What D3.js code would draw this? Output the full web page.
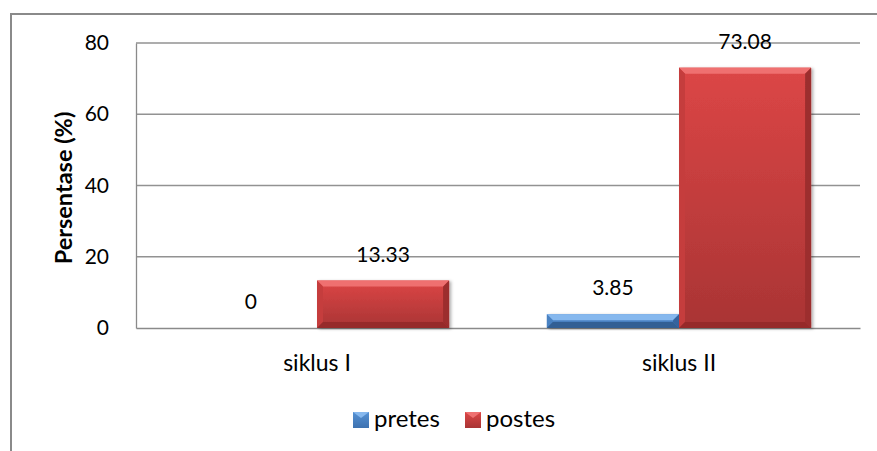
<!DOCTYPE html>
<html>
<head>
<meta charset="utf-8">
<script src="https://cdn.jsdelivr.net/npm/d3@7"></script>
<style>
  body { margin: 0; background: #fff; }
  svg { display: block; font-family: Lato, "Open Sans", sans-serif; }
</style>
</head>
<body>
<div class="chart"></div>
<script>
// data
var categories = ['siklus I', 'siklus II']
var seriesNames = ['pretes', 'postes']
var pretes = [0, 3.85]
var postes = [13.33, 73.08]
var yTicks = [0, 20, 40, 60, 80]

var W = 877, H = 451
var margin = {top: 43, right: 17, bottom: 123, left: 136},
    width = W - margin.left - margin.right,
    height = H - margin.top - margin.bottom

var svg = d3.select('.chart').append('svg')
    .attr('width', W)
    .attr('height', H)

// outer chart frame
svg.append('rect')
  .attr('x', 11).attr('y', 14)
  .attr('width', W + 20).attr('height', H + 20)
  .attr('fill', 'none')
  .attr('stroke', '#8a8a8a')
  .attr('stroke-width', 2)

var g = svg.append('g')
  .attr('transform', 'translate(' + margin.left + ',' + margin.top + ')')

var x0 = d3.scaleBand().domain(categories).range([0, width]).paddingInner(0).paddingOuter(0)
var x1 = d3.scaleBand().domain(seriesNames).range([0, x0.bandwidth()]).paddingInner(0).paddingOuter(0.37)
var y = d3.scaleLinear().domain([0, 80]).range([height, 0])

// gridlines
g.selectAll('.grid')
  .data(yTicks.filter(d => d > 0))
  .enter().append('line')
  .attr('x1', 0).attr('x2', width)
  .attr('y1', d => y(d)).attr('y2', d => y(d))
  .attr('stroke', '#929292')
  .attr('stroke-width', 1.3)

// axes
var yAxis = d3.axisLeft(y).tickValues(yTicks).tickSize(0).tickPadding(27)
g.append('g').attr('class', 'y-axis').call(yAxis)
var xAxis = d3.axisBottom(x0).tickSize(0).tickPadding(0)
g.append('g').attr('class', 'x-axis').attr('transform', 'translate(0,' + height + ')').call(xAxis)

g.selectAll('.domain').attr('stroke', '#8a8a8a').attr('stroke-width', 1.3)
g.select('.y-axis').selectAll('text')
  .attr('font-size', 21).attr('fill', '#000')
  .attr('font-family', 'Lato, sans-serif')
g.select('.x-axis').selectAll('text')
  .attr('font-size', 23).attr('fill', '#000')
  .attr('font-family', 'Lato, sans-serif')
  .attr('dy', 0).attr('y', 43)

// axis title
svg.append('text')
  .attr('transform', 'translate(72,188) rotate(-90)')
  .attr('text-anchor', 'middle')
  .attr('font-weight', 'bold')
  .attr('font-size', 23.5)
  .text('Persentase (%)')

// colours
var colors = {
  pretes: {top: '#86b8ee', body1: '#5591d4', body2: '#3e72b0', left: '#4a82c2', right: '#35649e', bottom: '#325e94'},
  postes: {top: '#ef7070', body1: '#dc4646', body2: '#a93434', left: '#c53c3c', right: '#9c2e2e', bottom: '#962c2c'}
}

var defs = svg.append('defs')
seriesNames.forEach(s => {
  var grad = defs.append('linearGradient').attr('id', 'grad-' + s)
    .attr('x1', 0).attr('y1', 0).attr('x2', 0).attr('y2', 1)
  grad.append('stop').attr('offset', '0%').attr('stop-color', colors[s].body1)
  grad.append('stop').attr('offset', '100%').attr('stop-color', colors[s].body2)
})
var shadow = defs.append('filter').attr('id', 'shadow')
  .attr('x', '-10%').attr('y', '-10%').attr('width', '130%').attr('height', '130%')
shadow.append('feDropShadow').attr('dx', 2).attr('dy', 1).attr('stdDeviation', 1.5)
  .attr('flood-color', '#000').attr('flood-opacity', 0.3)

// bevelled bar
function bevelBar(sel, s, bx, by, bw, bh) {
  var b = Math.min(6, bh / 2)
  var gb = sel.append('g').attr('filter', 'url(#shadow)')
  gb.append('rect').attr('x', bx).attr('y', by).attr('width', bw).attr('height', bh)
    .attr('fill', 'url(#grad-' + s + ')')
  var poly = function(pts, c) {
    gb.append('polygon').attr('points', pts.map(p => p.join(',')).join(' ')).attr('fill', c)
  }
  poly([[bx, by], [bx + bw, by], [bx + bw - b, by + b], [bx + b, by + b]], colors[s].top)
  poly([[bx, by], [bx + b, by + b], [bx + b, by + bh - b], [bx, by + bh]], colors[s].left)
  poly([[bx + bw, by], [bx + bw, by + bh], [bx + bw - b, by + bh - b], [bx + bw - b, by + b]], colors[s].right)
  poly([[bx, by + bh], [bx + bw, by + bh], [bx + bw - b, by + bh - b], [bx + b, by + bh - b]], colors[s].bottom)
}

var rows = []
categories.forEach((c, i) => {
  rows.push({cat: c, series: 'pretes', value: pretes[i]})
  rows.push({cat: c, series: 'postes', value: postes[i]})
})

rows.forEach(d => {
  var bx = x0(d.cat) + x1(d.series)
  var by = y(d.value)
  var bh = height - by
  if (bh > 0) bevelBar(g, d.series, bx, by, x1.bandwidth(), bh)
  g.append('text')
    .attr('x', bx + x1.bandwidth() / 2)
    .attr('y', by - 19)
    .attr('text-anchor', 'middle')
    .attr('font-size', 21)
    .text(d.value)
})

// legend
var legendX = [353, 465]
seriesNames.forEach((s, i) => {
  bevelBarLegend(svg, s, legendX[i], 412, 16, 16)
  svg.append('text')
    .attr('x', legendX[i] + 21)
    .attr('y', 427)
    .attr('font-size', 24)
    .text(s)
})
function bevelBarLegend(sel, s, bx, by, bw, bh) {
  var b = 4
  var gl = sel.append('g')
  gl.append('rect').attr('x', bx).attr('y', by).attr('width', bw).attr('height', bh)
    .attr('fill', 'url(#grad-' + s + ')')
  gl.append('polygon').attr('points', [[bx, by], [bx + bw, by], [bx + bw / 2, by + b + 2]].map(p => p.join(',')).join(' '))
    .attr('fill', colors[s].top)
}
</script>
</body>
</html>
